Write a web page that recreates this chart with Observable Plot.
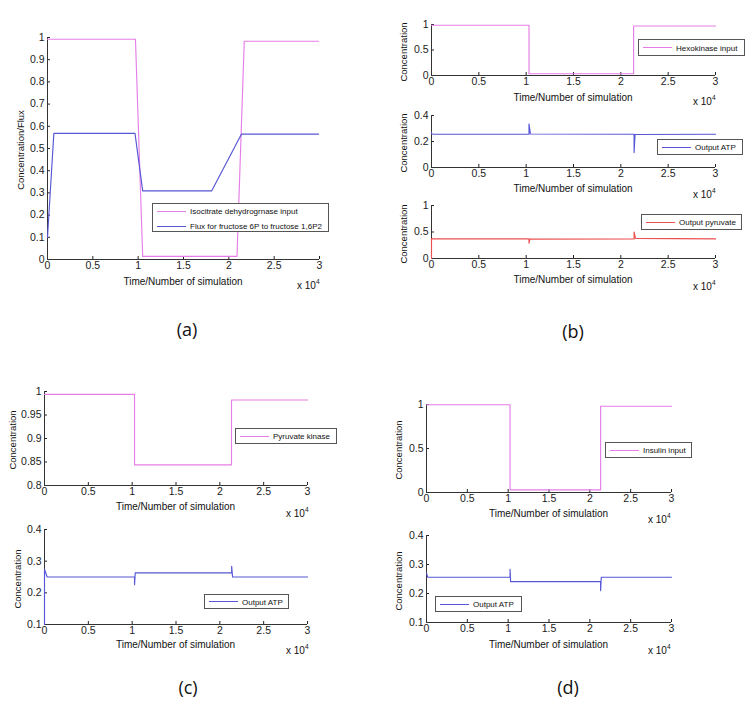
<!DOCTYPE html>
<html><head><meta charset="utf-8">
<script src="https://cdn.jsdelivr.net/npm/d3@7"></script>
<script src="https://cdn.jsdelivr.net/npm/@observablehq/plot@0.6"></script>
<style>
body{margin:0;background:#fff;}
#fig{position:relative;width:750px;height:703px;overflow:hidden;font-family:"Liberation Sans",Arial,sans-serif;color:#111;background:#fff;}
.p{position:absolute;}
.xlab{position:absolute;font-size:10px;transform:translate(-50%,-50%);white-space:nowrap;}
.ylab{position:absolute;font-size:9.5px;transform:translate(-50%,-50%) rotate(-90deg);white-space:nowrap;}
.exp{position:absolute;font-size:10px;white-space:nowrap;transform:translateY(-50%);}
.exp sup{font-size:6.5px;vertical-align:5px;}
.leg{position:absolute;border:1px solid #555;background:#fff;box-sizing:border-box;}
.legline{position:absolute;height:0;}
.legtext{position:absolute;font-size:8px;white-space:nowrap;transform:translateY(-50%);}
.tag{position:absolute;font-size:18px;font-family:"Open Sans","Liberation Sans",sans-serif;transform:translate(-50%,-50%);}
</style></head>
<body><div id="fig"></div>
<script>
// ---------- data ----------
const xTicks = [0, 0.5, 1, 1.5, 2, 2.5, 3];
const aYTicks = [0, 0.1, 0.2, 0.3, 0.4, 0.5, 0.6, 0.7, 0.8, 0.9, 1];
const unitTicks = [0, 0.5, 1];
const atpBTicks = [0, 0.2, 0.4];
const pkTicks = [0.8, 0.85, 0.9, 0.95, 1];
const atpTicks = [0.1, 0.2, 0.3, 0.4];

// (a)
const aIsoX  = [0, 0.97, 1.05, 2.09, 2.17, 2.99];
const aIsoY  = [0.992, 0.992, 0.014, 0.014, 0.983, 0.983];
const aFluxX = [0, 0.07, 0.965, 1.05, 1.81, 2.14, 2.99];
const aFluxY = [0.1, 0.568, 0.568, 0.309, 0.309, 0.565, 0.565];
// (b)
const bHexX = [0, 1.03, 1.03, 2.135, 2.135, 3];
const bHexY = [0.985, 0.985, 0.035, 0.035, 0.97, 0.97];
const bAtpX = [0, 0, 0.02, 1.03, 1.03, 1.045, 2.14, 2.14, 2.15, 3];
const bAtpY = [0.27, 0.26, 0.256, 0.256, 0.335, 0.258, 0.256, 0.115, 0.254, 0.256];
const bPyrX = [0, 0, 0.02, 1.03, 1.03, 1.04, 2.14, 2.14, 2.155, 3];
const bPyrY = [0, 0.375, 0.37, 0.37, 0.29, 0.365, 0.37, 0.5, 0.38, 0.37];
// (c)
const cPkX  = [0, 1.027, 1.027, 2.133, 2.133, 3];
const cPkY  = [0.994, 0.994, 0.844, 0.844, 0.982, 0.982];
const cAtpX = [0, 0, 0.03, 1.027, 1.027, 1.035, 2.135, 2.135, 2.145, 3];
const cAtpY = [0.1, 0.275, 0.25, 0.25, 0.226, 0.263, 0.263, 0.284, 0.25, 0.25];
// (d)
const dInsX = [0, 1.023, 1.023, 2.132, 2.132, 3];
const dInsY = [0.997, 0.997, 0.03, 0.03, 0.98, 0.98];
const dAtpX = [0, 0.015, 1.023, 1.023, 1.03, 2.132, 2.132, 2.14, 3];
const dAtpY = [0.27, 0.256, 0.256, 0.283, 0.241, 0.241, 0.21, 0.256, 0.256];

// ---------- styles ----------
const PINK = "#e67ee6", BLUE = "#5656d6", RED = "#ec5050";
const fmt = d3.format("~g");
const fig = document.getElementById("fig");

const panels = [
  {L:47,R:319,T:37,B:259, yDomain:[0,1], yTicks:aYTicks,
   series:[{x:aIsoX,y:aIsoY,c:PINK,label:"Isocitrate dehydrogrnase input"},
           {x:aFluxX,y:aFluxY,c:BLUE,label:"Flux for fructose 6P to fructose 1,6P2"}],
   ylabel:"Concentration/Flux", ylx:20, ylSize:9.5, xly:281, ex:297, ey:284,
   leg:[152,203,329,232]},
  {L:431,R:715,T:24,B:75, yDomain:[0,1], yTicks:unitTicks,
   series:[{x:bHexX,y:bHexY,c:PINK,label:"Hexokinase input"}],
   ylabel:"Concentration", ylx:403, xly:97, ex:693, ey:100, leg:[638,39,745,56]},
  {L:431,R:715,T:115,B:167, yDomain:[0,0.4], yTicks:atpBTicks,
   series:[{x:bAtpX,y:bAtpY,c:BLUE,label:"Output ATP"}],
   ylabel:"Concentration", ylx:403, xly:188, ex:693, ey:193, leg:[657,139,743,155]},
  {L:431,R:715,T:205,B:258, yDomain:[0,1], yTicks:unitTicks,
   series:[{x:bPyrX,y:bPyrY,c:RED,label:"Output pyruvate"}],
   ylabel:"Concentration", ylx:403, xly:279, ex:693, ey:285, leg:[641,214,742,230]},
  {L:44,R:307,T:391,B:485, yDomain:[0.8,1], yTicks:pkTicks,
   series:[{x:cPkX,y:cPkY,c:PINK,label:"Pyruvate kinase"}],
   ylabel:"Concentration", ylx:12, xly:506, ex:286, ey:512, leg:[235,428,337,444]},
  {L:44,R:307,T:529,B:624, yDomain:[0.1,0.4], yTicks:atpTicks,
   series:[{x:cAtpX,y:cAtpY,c:BLUE,label:"Output ATP"}],
   ylabel:"Concentration", ylx:17, xly:644, ex:286, ey:649, leg:[204,594,289,609]},
  {L:426,R:671,T:404,B:492, yDomain:[0,1], yTicks:unitTicks,
   series:[{x:dInsX,y:dInsY,c:PINK,label:"Insulin input"}],
   ylabel:"Concentration", ylx:398, xly:513, ex:648, ey:518, leg:[605,442,692,458]},
  {L:426,R:671,T:535,B:622, yDomain:[0.1,0.4], yTicks:atpTicks,
   series:[{x:dAtpX,y:dAtpY,c:BLUE,label:"Output ATP"}],
   ylabel:"Concentration", ylx:398, xly:644, ex:648, ey:649, leg:[435,596,522,612]}
];
const tags = [["(a)",187,329],["(b)",573,331],["(c)",188,687],["(d)",568,687]];

function el(cls, css, html){
  const d = document.createElement("div");
  d.className = cls; Object.assign(d.style, css); if (html != null) d.innerHTML = html;
  fig.appendChild(d); return d;
}

const mL = 42, mR = 12, mT = 8, mB = 22;
for (const p of panels) {
  const w = p.R - p.L + mL + mR, h = p.B - p.T + mT + mB;
  const chart = Plot.plot({
    width: w, height: h, marginLeft: mL, marginRight: mR, marginTop: mT, marginBottom: mB,
    style: {fontSize: "10.5px", fontFamily: "'Liberation Sans', Arial, sans-serif", color: "#222", background: "transparent", overflow: "visible"},
    x: {domain: [0, 3], ticks: xTicks, tickFormat: fmt, tickSize: -3, tickPadding: 5, label: null},
    y: {domain: p.yDomain, ticks: p.yTicks, tickFormat: fmt, tickSize: -3, tickPadding: 6, label: null},
    marks: [
      Plot.ruleY([p.yDomain[0]], {stroke: "#333", strokeWidth: 1}),
      Plot.ruleX([0], {stroke: "#333", strokeWidth: 1}),
      ...p.series.map(s => Plot.line(s.x.map((x, i) => ({x, y: s.y[i]})), {x: "x", y: "y", stroke: s.c, strokeWidth: 1.15}))
    ]
  });
  const wrap = el("p", {left: (p.L - mL) + "px", top: (p.T - mT) + "px"});
  wrap.appendChild(chart);
  el("xlab", {left: ((p.L + p.R) / 2) + "px", top: p.xly + "px"}, "Time/Number of simulation");
  el("ylab", {left: p.ylx + "px", top: ((p.T + p.B) / 2 + 2) + "px", fontSize: (p.ylSize || 9.5) + "px"}, p.ylabel);
  el("exp", {left: p.ex + "px", top: p.ey + "px"}, "x 10<sup>4</sup>");
  const [x1, y1, x2, y2] = p.leg;
  el("leg", {left: x1 + "px", top: y1 + "px", width: (x2 - x1) + "px", height: (y2 - y1) + "px"});
  const n = p.series.length;
  p.series.forEach((s, i) => {
    const yc = n === 1 ? (y1 + y2) / 2 : y1 + 8 + i * 15;
    el("legline", {left: (x1 + 5) + "px", top: (yc - 0.5) + "px", width: "29px", borderTop: "1.1px solid " + s.c});
    el("legtext", {left: (x1 + 38) + "px", top: yc + "px"}, s.label);
  });
}
for (const [t, x, y] of tags) el("tag", {left: x + "px", top: y + "px"}, t);
</script></body></html>
